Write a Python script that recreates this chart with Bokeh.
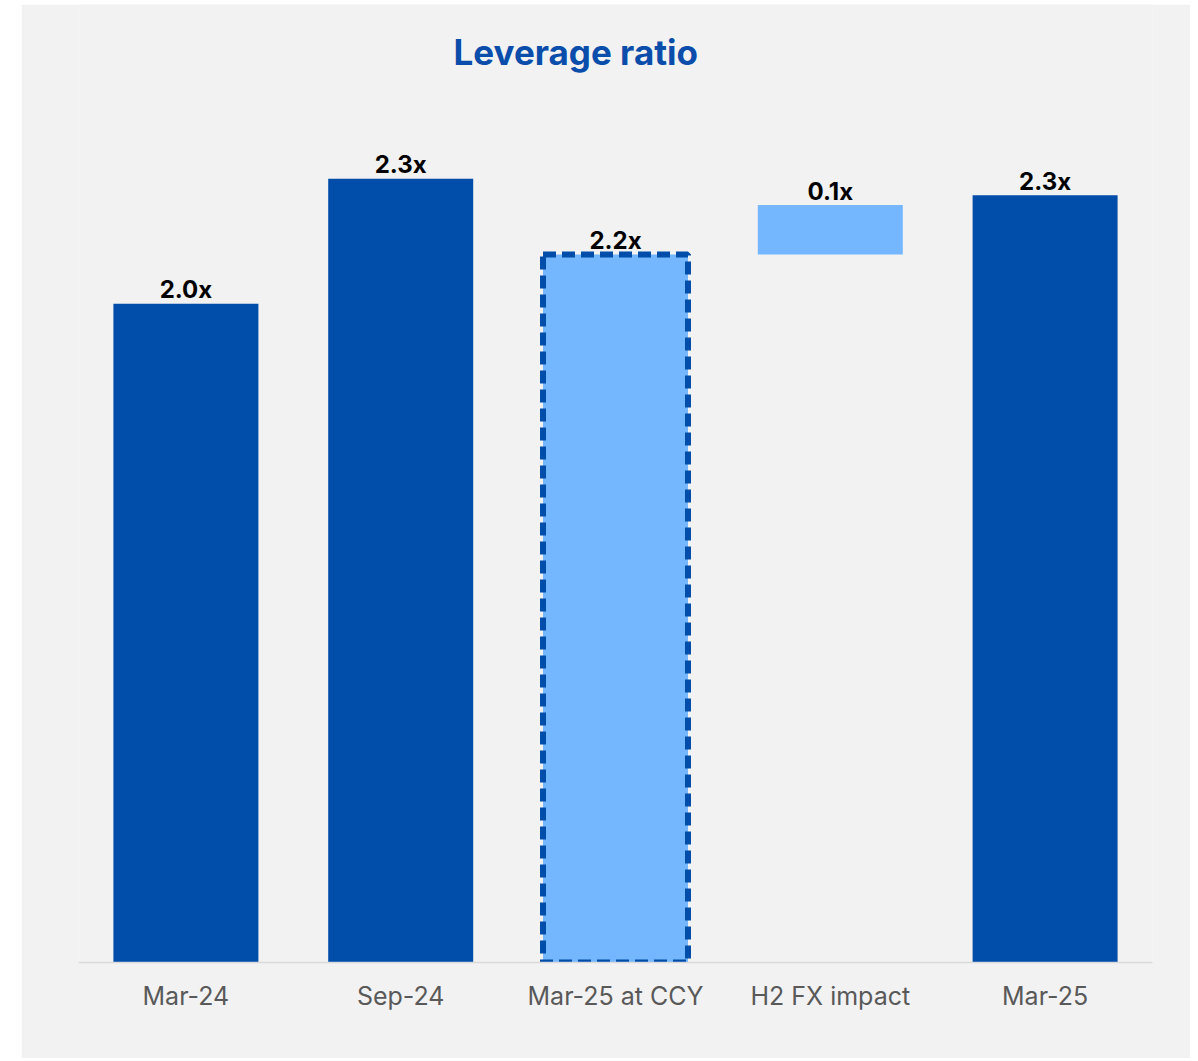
from bokeh.plotting import figure
from bokeh.models import FactorRange, Range1d, Label, ColumnDataSource
from bokeh.core.properties import value
from bokeh.embed import file_html
from bokeh.resources import INLINE

categories = ["Mar-24", "Sep-24", "Mar-25 at CCY", "H2 FX impact", "Mar-25"]
bar_bottoms = [0.0, 0.0, 0.0, 2.15, 0.0]
bar_tops = [2.00, 2.38, 2.15, 2.30, 2.33]
value_labels = ["2.0x", "2.3x", "2.2x", "0.1x", "2.3x"]
bar_kind = ["solid", "solid", "light_dashed", "light", "solid"]
title_text = "Leverage ratio"

DARK = "#004DAA"
LIGHT = "#74B7FF"
BG = "#F2F2F2"
FONT = "Inter"

p = figure(
    x_range=FactorRange(factors=categories, range_padding=0),
    y_range=Range1d(0, 2.909),
    width=1169, height=1054,
    margin=(4, 0, 0, 21),
    min_border_left=57, min_border_right=38, min_border_top=0, min_border_bottom=96,
    output_backend="svg", toolbar_location=None,
    background_fill_color=BG, border_fill_color=BG,
)
p.outline_line_color = None
p.xgrid.grid_line_color = None
p.ygrid.grid_line_color = None
p.yaxis.visible = False

def subset(kinds):
    idx = [i for i, k in enumerate(bar_kind) if k in kinds]
    return ColumnDataSource(dict(
        x=[categories[i] for i in idx],
        bottom=[bar_bottoms[i] for i in idx],
        top=[bar_tops[i] for i in idx],
    ))

p.vbar(x="x", bottom="bottom", top="top", width=0.675, source=subset({"solid"}),
       fill_color=DARK, line_color=None)
p.vbar(x="x", bottom="bottom", top="top", width=0.675, source=subset({"light"}),
       fill_color=LIGHT, line_color=None)
p.vbar(x="x", bottom="bottom", top="top", width=0.675, source=subset({"light_dashed"}),
       fill_color=LIGHT, line_color=DARK, line_width=6, line_dash="13 6")

lab_src = ColumnDataSource(dict(x=categories, y=bar_tops, text=value_labels))
p.text(x="x", y="y", text="text", source=lab_src, text_align="center",
       text_baseline="alphabetic", y_offset=-14, text_font=value(FONT),
       text_font_style="bold", text_font_size="24px", text_color="#000000")

# title placed in data space (x in synthetic category units)
p.add_layout(Label(x=2.315, y=2.765, text=title_text,
                   text_align="center", text_baseline="alphabetic", text_font=FONT,
                   text_font_style="bold", text_font_size="35px", text_color="#0A4DAA"))

ax = p.xaxis[0]
ax.axis_line_color = "#D9D9D9"
ax.axis_line_width = 1.5
ax.major_tick_line_color = None
ax.minor_tick_line_color = None
ax.major_label_text_font = FONT
ax.major_label_text_font_size = "25px"
ax.major_label_text_color = "#595959"
ax.major_label_standoff = 12

open("out.html", "w").write(file_html(p, INLINE))
